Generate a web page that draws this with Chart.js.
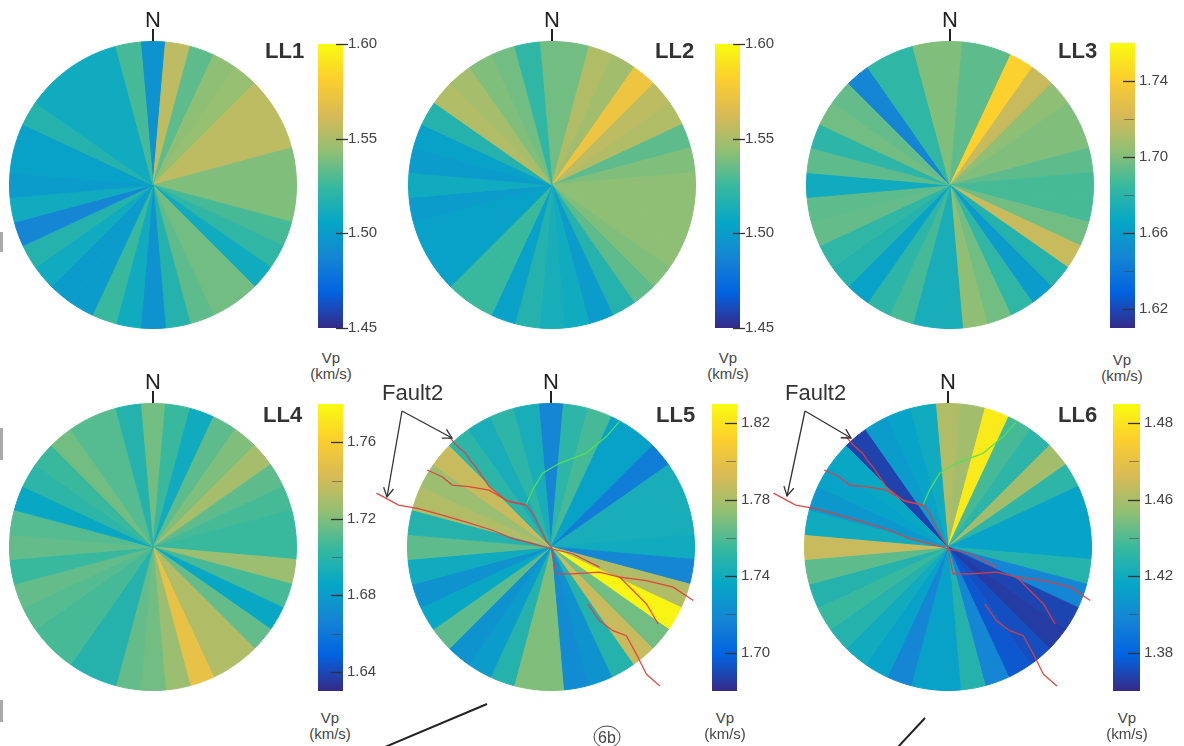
<!DOCTYPE html>
<html>
<head>
<meta charset="utf-8">
<script src="https://cdn.jsdelivr.net/npm/chart.js@4.4.0/dist/chart.umd.min.js"></script>
<style>
  body { margin: 0; background: #fff; width: 1184px; height: 746px; overflow: hidden; position: relative; font-family: "Liberation Sans", Arial, sans-serif; }
  canvas { position: absolute; }
  .ll { position: absolute; font-weight: bold; font-size: 22px; color: #333; line-height: 1; }
  .n { position: absolute; font-size: 22px; color: #222; line-height: 1; width: 30px; text-align: center; }
  .ntick { position: absolute; width: 2px; height: 12px; background: #222; }
  .unit { position: absolute; font-size: 15px; color: #444; text-align: center; width: 60px; line-height: 1; }
  .edge { position: absolute; left: 0; width: 3px; background: #aaa; }
</style>
</head>
<body>
<script>
// azimut del centro de cada sector (grados desde el norte, horario)
const azimuths = [0,10,20,30,40,50,60,70,80,90,100,110,120,130,140,150,160,170,180,190,200,210,220,230,240,250,260,270,280,290,300,310,320,330,340,350];
const sectorWidth = 10;

// Vp (km/s) por sector
const vpLL1 = [1.495,1.555,1.533,1.543,1.545,1.555,1.555,1.555,1.540,1.540,1.540,1.528,1.522,1.510,1.537,1.537,1.533,1.518,1.495,1.510,1.525,1.500,1.500,1.510,1.518,1.488,1.510,1.500,1.503,1.503,1.518,1.510,1.510,1.510,1.510,1.528];
const vpLL2 = [1.537,1.537,1.552,1.548,1.573,1.555,1.552,1.533,1.540,1.543,1.543,1.543,1.543,1.540,1.533,1.518,1.500,1.510,1.513,1.518,1.503,1.525,1.525,1.503,1.503,1.503,1.500,1.510,1.500,1.503,1.518,1.552,1.549,1.540,1.537,1.522];
const vpLL3 = [1.700,1.693,1.693,1.742,1.718,1.703,1.700,1.700,1.693,1.688,1.688,1.697,1.718,1.678,1.660,1.682,1.697,1.703,1.673,1.673,1.688,1.681,1.663,1.678,1.682,1.694,1.693,1.670,1.693,1.681,1.697,1.694,1.648,1.682,1.682,1.700];
const vpLL4 = [1.717,1.705,1.690,1.713,1.720,1.729,1.713,1.708,1.705,1.705,1.726,1.708,1.687,1.714,1.732,1.732,1.750,1.726,1.717,1.714,1.698,1.698,1.708,1.708,1.711,1.714,1.705,1.714,1.711,1.687,1.701,1.705,1.717,1.711,1.711,1.698];
const vpLL5 = [1.718,1.751,1.758,1.733,1.733,1.713,1.743,1.743,1.743,1.740,1.718,1.782,1.827,1.767,1.788,1.748,1.725,1.721,1.770,1.770,1.748,1.730,1.725,1.763,1.737,1.725,1.740,1.763,1.748,1.782,1.776,1.788,1.751,1.743,1.751,1.743];
const vpLL6 = [1.462,1.458,1.503,1.438,1.431,1.458,1.431,1.414,1.414,1.414,1.428,1.398,1.369,1.366,1.372,1.375,1.398,1.428,1.413,1.413,1.398,1.413,1.420,1.428,1.435,1.428,1.443,1.468,1.420,1.408,1.414,1.417,1.368,1.410,1.414,1.420];

// barras de color: rango, ticks y etiquetas
const rangeLL1 = [1.45, 1.60];
const ticksLL1 = [1.45, 1.50, 1.55, 1.60];
const labelsLL1 = ['1.45', '1.50', '1.55', '1.60'];
const minorLL1 = [];
const rangeLL2 = [1.45, 1.60];
const ticksLL2 = [1.45, 1.50, 1.55, 1.60];
const labelsLL2 = ['1.45', '1.50', '1.55', '1.60'];
const minorLL2 = [];
const rangeLL3 = [1.61, 1.76];
const ticksLL3 = [1.62, 1.66, 1.70, 1.74];
const labelsLL3 = ['1.62', '1.66', '1.70', '1.74'];
const minorLL3 = [1.64, 1.68, 1.72];
const rangeLL4 = [1.63, 1.78];
const ticksLL4 = [1.64, 1.68, 1.72, 1.76];
const labelsLL4 = ['1.64', '1.68', '1.72', '1.76'];
const minorLL4 = [1.66, 1.70, 1.74];
const rangeLL5 = [1.68, 1.83];
const ticksLL5 = [1.70, 1.74, 1.78, 1.82];
const labelsLL5 = ['1.70', '1.74', '1.78', '1.82'];
const minorLL5 = [1.72, 1.76, 1.80];
const rangeLL6 = [1.36, 1.51];
const ticksLL6 = [1.38, 1.42, 1.46, 1.50];
const labelsLL6 = ['1.38', '1.42', '1.46', '1.48'];
const minorLL6 = [1.40, 1.44, 1.48];

// trazas de falla, en radios del circulo (x este, y norte)
const fault2A = [{x:-0.709,y:0.767},{x:-0.650,y:0.700},{x:-0.593,y:0.651},{x:-0.560,y:0.600},{x:-0.523,y:0.558},{x:-0.470,y:0.480},{x:-0.430,y:0.419},{x:-0.314,y:0.326},{x:-0.174,y:0.291},{x:-0.128,y:0.233},{x:-0.081,y:0.140},{x:-0.035,y:0.047},{x:0,y:0}];
const fault2B = [{x:-0.860,y:0.535},{x:-0.756,y:0.488},{x:-0.686,y:0.430},{x:-0.570,y:0.419},{x:-0.430,y:0.395},{x:-0.291,y:0.314},{x:-0.174,y:0.291}];
const fault2C = [{x:-1.212,y:0.374},{x:-1.058,y:0.291},{x:-0.919,y:0.267},{x:-0.756,y:0.221},{x:-0.593,y:0.174},{x:-0.407,y:0.116},{x:-0.267,y:0.058},{x:-0.128,y:0.023},{x:0,y:-0.012},{x:0.151,y:-0.047},{x:0.337,y:-0.140}];
const fault2D = [{x:0,y:0},{x:0.016,y:-0.093},{x:0.035,y:-0.186},{x:0.151,y:-0.186},{x:0.337,y:-0.174},{x:0.477,y:-0.209},{x:0.570,y:-0.302},{x:0.663,y:-0.395},{x:0.744,y:-0.535}];
const fault2E = [{x:0.477,y:-0.209},{x:0.663,y:-0.233},{x:0.849,y:-0.279},{x:0.988,y:-0.372}];
const fault2F = [{x:0.256,y:-0.395},{x:0.337,y:-0.512},{x:0.430,y:-0.581},{x:0.523,y:-0.616},{x:0.593,y:-0.744},{x:0.663,y:-0.884},{x:0.756,y:-0.965}];
const greenTrace = [{x:-0.174,y:0.291},{x:-0.128,y:0.395},{x:-0.058,y:0.512},{x:0.058,y:0.581},{x:0.244,y:0.651},{x:0.384,y:0.767},{x:0.477,y:0.872}];

// mapa de color parula
const parulaStops = ['#352a87','#0363e1','#1485d4','#06a7c6','#38b99e','#92bf73','#d9ba56','#fcce2e','#f9fb0e'];

function hexToRgb(h) {
    return [parseInt(h.slice(1,3),16), parseInt(h.slice(3,5),16), parseInt(h.slice(5,7),16)];
}
function parula(t) {
    t = Math.min(1, Math.max(0, t));
    const n = parulaStops.length - 1;
    const i = Math.min(n - 1, Math.floor(t * n));
    const f = t * n - i;
    const a = hexToRgb(parulaStops[i]), b = hexToRgb(parulaStops[i + 1]);
    const c = a.map((v, k) => Math.round(v + (b[k] - v) * f));
    return `rgb(${c[0]},${c[1]},${c[2]})`;
}

Chart.defaults.font.family = '"Liberation Sans", Arial, sans-serif';

const pieSize = 288;
const panels = [
    {name:'LL1', vp:vpLL1, range:rangeLL1, ticks:ticksLL1, labels:labelsLL1, minor:minorLL1, cx:153, cy:185, bar:[318,42,25,288], out:5, txt:[265,40], unit:[331,350]},
    {name:'LL2', vp:vpLL2, range:rangeLL2, ticks:ticksLL2, labels:labelsLL2, minor:minorLL2, cx:552, cy:185, bar:[715,42,25,288], out:5, txt:[655,40], unit:[728,350]},
    {name:'LL3', vp:vpLL3, range:rangeLL3, ticks:ticksLL3, labels:labelsLL3, minor:minorLL3, cx:950, cy:185, bar:[1110,42,25,287], out:0, txt:[1058,40], unit:[1122,352]},
    {name:'LL4', vp:vpLL4, range:rangeLL4, ticks:ticksLL4, labels:labelsLL4, minor:minorLL4, cx:153, cy:547, bar:[318,403,25,289], out:0, txt:[263,404], unit:[330,710], faults:false},
    {name:'LL5', vp:vpLL5, range:rangeLL5, ticks:ticksLL5, labels:labelsLL5, minor:minorLL5, cx:551, cy:547, bar:[712,403,25,289], out:0, txt:[656,404], unit:[725,710], faults:true},
    {name:'LL6', vp:vpLL6, range:rangeLL6, ticks:ticksLL6, labels:labelsLL6, minor:minorLL6, cx:948, cy:547, bar:[1113,403,27,289], out:0, txt:[1058,404], unit:[1127,710], faults:true}
];

function addCanvas(left, top, w, h) {
    const c = document.createElement('canvas');
    c.width = w; c.height = h;
    c.style.left = left + 'px'; c.style.top = top + 'px';
    document.body.appendChild(c);
    return c;
}
function addDiv(cls, text, left, top) {
    const d = document.createElement('div');
    d.className = cls; d.textContent = text;
    d.style.left = left + 'px'; d.style.top = top + 'px';
    document.body.appendChild(d);
    return d;
}

// marcas de tick dentro de la barra
const tickMarks = {
    id: 'tickMarks',
    afterDatasetsDraw(chart, args, opts) {
        const { ctx, chartArea } = chart;
        const y = chart.scales.y;
        const inward = opts.outward ? 7 : 12;
        ctx.save();
        ctx.strokeStyle = '#333';
        ctx.lineWidth = 1.3;
        opts.major.forEach(v => {
            const py = Math.round(y.getPixelForValue(v)) + 0.5;
            ctx.beginPath();
            ctx.moveTo(chartArea.right - inward, py);
            ctx.lineTo(chartArea.right + opts.outward, py);
            ctx.stroke();
        });
        ctx.strokeStyle = 'rgba(70,70,70,0.55)';
        ctx.lineWidth = 1;
        opts.minor.forEach(v => {
            const py = Math.round(y.getPixelForValue(v)) + 0.5;
            ctx.beginPath();
            ctx.moveTo(chartArea.right - 11, py);
            ctx.lineTo(chartArea.right - 1, py);
            ctx.stroke();
        });
        ctx.restore();
    }
};

panels.forEach(p => {
    // rosa de Vp
    const colors = p.vp.map(v => parula((v - p.range[0]) / (p.range[1] - p.range[0])));
    const pie = addCanvas(p.cx - pieSize / 2, p.cy - pieSize / 2, pieSize, pieSize);
    new Chart(pie, {
        type: 'pie',
        data: {
            labels: azimuths,
            datasets: [{
                data: azimuths.map(() => sectorWidth),
                backgroundColor: colors,
                borderColor: colors,
                borderWidth: 1
            }]
        },
        options: {
            responsive: false,
            animation: false,
            rotation: -sectorWidth / 2,
            layout: { padding: 0 },
            plugins: { legend: { display: false }, tooltip: { enabled: false } }
        }
    });

    // barra de color
    const [bx, by, bw, bh] = p.bar;
    const pad = 12, axisW = 45;
    const cb = addCanvas(bx, by - pad, bw + axisW, bh + pad * 2);
    new Chart(cb, {
        type: 'bar',
        data: {
            labels: ['Vp'],
            datasets: [{
                data: [p.range],
                backgroundColor: c => {
                    const a = c.chart.chartArea;
                    if (!a) return parulaStops[4];
                    const g = c.chart.ctx.createLinearGradient(0, a.bottom, 0, a.top);
                    parulaStops.forEach((s, i) => g.addColorStop(i / (parulaStops.length - 1), s));
                    return g;
                },
                borderWidth: 0,
                barPercentage: 1,
                categoryPercentage: 1
            }]
        },
        options: {
            responsive: false,
            animation: false,
            layout: { padding: { top: pad, bottom: pad, left: 0, right: 0 } },
            plugins: {
                legend: { display: false },
                tooltip: { enabled: false },
                tickMarks: { major: p.ticks, minor: p.minor, outward: p.out }
            },
            scales: {
                x: { display: false },
                y: {
                    position: 'right',
                    min: p.range[0],
                    max: p.range[1],
                    grid: { display: false, drawTicks: false },
                    border: { display: false },
                    afterBuildTicks: s => { s.ticks = p.ticks.map(v => ({ value: v })); },
                    afterFit: s => { s.width = axisW; },
                    ticks: {
                        padding: p.out ? 5 : 4,
                        color: '#444',
                        font: { size: 15 },
                        callback: (v, i) => p.labels[i]
                    }
                }
            }
        },
        plugins: [tickMarks]
    });

    // textos
    addDiv('ll', p.name, p.txt[0], p.txt[1]);
    const nTop = p.cy < 300 ? 9 : 371;
    addDiv('n', 'N', p.cx - 15, nTop);
    addDiv('ntick', '', p.cx - 1, p.cy - 156);
    addDiv('unit', 'Vp', p.unit[0] - 30, p.unit[1]);
    addDiv('unit', '(km/s)', p.unit[0] - 30, p.unit[1] + 16);

    // fallas
    if (p.faults) {
        const ov = 390, ext = (ov / 2) / (pieSize / 2);
        const fc = addCanvas(p.cx - ov / 2, p.cy - ov / 2, ov, ov);
        const red = d => ({ data: d, showLine: true, borderColor: 'rgba(228,60,60,0.95)', borderWidth: 1.2, pointRadius: 0 });
        new Chart(fc, {
            type: 'scatter',
            data: {
                datasets: [
                    red(fault2A), red(fault2B), red(fault2C), red(fault2D), red(fault2E), red(fault2F),
                    { data: greenTrace, showLine: true, borderColor: '#55e055', borderWidth: 1.2, pointRadius: 0 }
                ]
            },
            options: {
                responsive: false,
                animation: false,
                layout: { padding: 0 },
                plugins: { legend: { display: false }, tooltip: { enabled: false } },
                scales: {
                    x: { display: false, min: -ext, max: ext },
                    y: { display: false, min: -ext, max: ext }
                }
            }
        });
    }
});
</script>

<div class="edge" style="top:232px;height:20px"></div>
<div class="edge" style="top:428px;height:32px"></div>
<div class="edge" style="top:700px;height:22px"></div>

<svg width="1184" height="746" style="position:absolute;left:0;top:0;z-index:5">
  <defs>
    <marker id="ah" markerWidth="12" markerHeight="12" refX="10" refY="6" orient="auto" markerUnits="userSpaceOnUse">
      <path d="M1,1 L10,6 L1,11" fill="none" stroke="#333" stroke-width="1.3"/>
    </marker>
  </defs>
  <text x="382" y="400" font-size="22" fill="#333" font-family="Liberation Sans, Arial, sans-serif">Fault2</text>
  <line x1="402" y1="411" x2="452" y2="438" stroke="#333" stroke-width="1.3" marker-end="url(#ah)"/>
  <line x1="402" y1="411" x2="387" y2="497" stroke="#333" stroke-width="1.3" marker-end="url(#ah)"/>
  <text x="785" y="400" font-size="22" fill="#333" font-family="Liberation Sans, Arial, sans-serif">Fault2</text>
  <line x1="805" y1="411" x2="851" y2="438" stroke="#333" stroke-width="1.3" marker-end="url(#ah)"/>
  <line x1="805" y1="411" x2="787" y2="496" stroke="#333" stroke-width="1.3" marker-end="url(#ah)"/>
  <line x1="385" y1="747" x2="487" y2="704" stroke="#222" stroke-width="2"/>
  <line x1="898" y1="747" x2="925" y2="718" stroke="#222" stroke-width="2"/>
  <ellipse cx="607" cy="737" rx="13" ry="11" fill="none" stroke="#444" stroke-width="1"/>
  <text x="607" y="743" font-size="16" fill="#444" text-anchor="middle" font-family="Liberation Sans, Arial, sans-serif">6b</text>
</svg>
</body>
</html>
